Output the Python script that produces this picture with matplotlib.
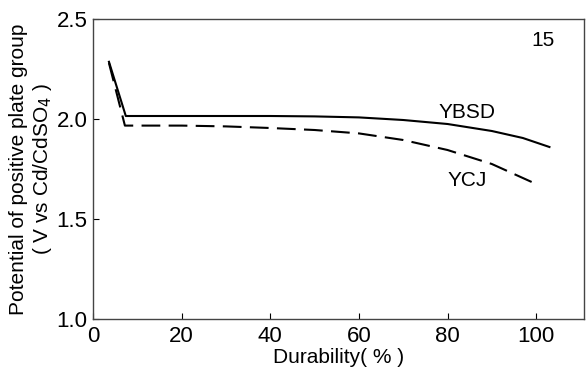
import matplotlib
matplotlib.use("Agg")
import matplotlib.pyplot as plt

# durability (%) vs positive plate potential (V vs Cd/CdSO4)
ybsd_x = [3.6, 7.4, 20, 40, 50, 60, 70, 80, 90, 97, 103]
ybsd_y = [2.286, 2.015, 2.015, 2.015, 2.013, 2.008, 1.995, 1.975, 1.94, 1.905, 1.86]

ycj_x = [3.6, 7.2, 20, 30, 40, 50, 60, 70, 80, 90, 100]
ycj_y = [2.28, 1.967, 1.967, 1.963, 1.955, 1.945, 1.928, 1.895, 1.845, 1.775, 1.675]

plt.rcParams["font.family"] = ["Liberation Sans", "DejaVu Sans"]

fig = plt.figure(figsize=(5.87, 3.69), dpi=100)
ax = fig.add_axes([93 / 587, 50 / 369, 491 / 587, 300 / 369])

ax.plot(ybsd_x, ybsd_y, color="black", lw=1.5)
ax.plot(ycj_x, ycj_y, color="black", lw=1.5, dashes=(9, 4))

ax.text(84.4, 2.035, "YBSD", ha="center", va="center", fontsize=15)
ax.text(84.4, 1.695, "YCJ", ha="center", va="center", fontsize=15)
ax.text(101.6, 2.39, "15", ha="center", va="center", fontsize=15)

ax.set_xlim(0, 110.8)
ax.set_ylim(1.0, 2.5)
ax.set_xticks([0, 20, 40, 60, 80, 100])
ax.set_yticks([1.0, 1.5, 2.0, 2.5])
ax.set_yticklabels(["1.0", "1.5", "2.0", "2.5"])
ax.tick_params(direction="in", length=4, width=0.8, labelsize=16)
ax.tick_params(axis="x", pad=5)
ax.tick_params(axis="y", pad=4)
for s in ax.spines.values():
    s.set_linewidth(1.0)
    s.set_color("#444444")

ax.set_xlabel("Durability( % )", fontsize=15, labelpad=1)
ax.set_ylabel("Potential of positive plate group\n( V vs Cd/CdSO$_4$ )", fontsize=15,
              linespacing=1.15, labelpad=2)

fig.savefig("out.png", dpi=100)
